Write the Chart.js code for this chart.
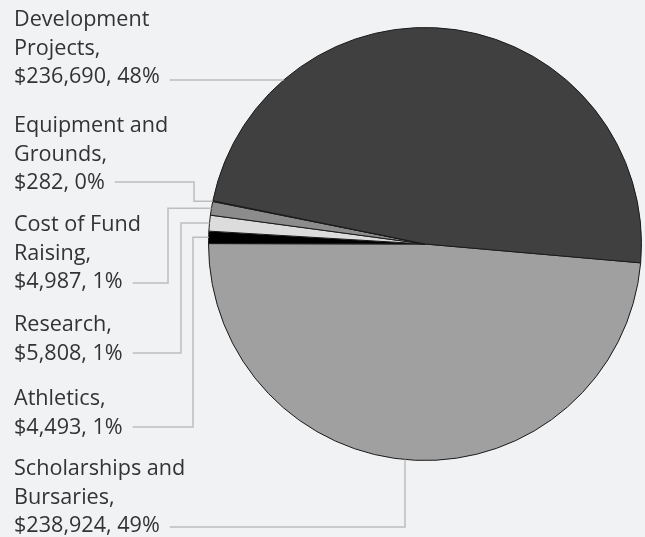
<!DOCTYPE html>
<html>
<head>
<meta charset="utf-8">
<script src="https://cdn.jsdelivr.net/npm/chart.js@4"></script>
<style>
  html, body { margin: 0; padding: 0; background: #f1f2f4; }
  #chart { display: block; }
</style>
</head>
<body>
<canvas id="chart" width="645" height="537"></canvas>
<script>
// slices in clockwise order, starting just below 3 o'clock
const categories = ["Scholarships and\nBursaries", "Athletics", "Research", "Cost of Fund\nRaising", "Equipment and\nGrounds", "Development\nProjects"];
const amounts = [238924, 4493, 5808, 4987, 282, 236690];
const sliceColors = ["#a0a0a0", "#000000", "#dcdcdc", "#8c8c8c", "#7a7a7a", "#404040"];

// label placement (first text line centre, leader line y, elbow x, leader kind)
const labelTop = [469, 399, 325, 225, 126, 20];
const leaderY = [527, 427, 353, 283, 182, 80];
const elbowX = [405, 193, 181, 168, 194, null];
const leaderKind = ["v", "elbow", "elbow", "elbow", "elbow", "h"];

const TEXT_X = 14, LINE_H = 28.6, FONT = '21.6px "Open Sans", sans-serif';

const total = amounts.reduce(function (a, b) { return a + b; }, 0);
function money(v) { return "$" + v.toLocaleString("en-US"); }

const callouts = {
  id: "callouts",
  afterDatasetsDraw(chart) {
    const ctx = chart.ctx;
    const arcs = chart.getDatasetMeta(0).data;
    ctx.save();
    ctx.font = FONT;
    ctx.textBaseline = "middle";
    ctx.fillStyle = "#333333";
    arcs.forEach(function (arc, i) {
      const cx = arc.x, cy = arc.y, r = arc.outerRadius;
      const pct = Math.round(amounts[i] / total * 100);
      const lines = (categories[i] + ",").split("\n");
      lines.push(money(amounts[i]) + ", " + pct + "%");
      lines.forEach(function (t, k) { ctx.fillText(t, TEXT_X, labelTop[i] + k * LINE_H); });
      const endX = TEXT_X + ctx.measureText(lines[lines.length - 1]).width;

      ctx.strokeStyle = "#bdbdbd";
      ctx.lineWidth = 1.5;
      ctx.beginPath();
      const y0 = leaderY[i];
      ctx.moveTo(endX + 10, y0);
      if (leaderKind[i] === "h") {
        ctx.lineTo(cx - Math.sqrt(r * r - (y0 - cy) * (y0 - cy)), y0);
      } else if (leaderKind[i] === "v") {
        const ex = elbowX[i];
        ctx.lineTo(ex, y0);
        ctx.lineTo(ex, cy + Math.sqrt(r * r - (ex - cx) * (ex - cx)));
      } else {
        const mid = (arc.startAngle + arc.endAngle) / 2;
        const ty = cy + r * Math.sin(mid);
        const tx = cx + r * Math.cos(mid);
        ctx.lineTo(elbowX[i], y0);
        ctx.lineTo(elbowX[i], ty);
        ctx.lineTo(tx, ty);
      }
      ctx.stroke();
    });
    ctx.restore();
  }
};

new Chart(document.getElementById("chart"), {
  type: "pie",
  data: {
    labels: categories,
    datasets: [{
      data: amounts,
      backgroundColor: sliceColors,
      borderColor: "#1a1a1a",
      borderWidth: 1
    }]
  },
  options: {
    responsive: false,
    animation: false,
    rotation: 95,
    layout: { padding: { left: 208, right: 3, top: 27, bottom: 76 } },
    plugins: { legend: { display: false }, tooltip: { enabled: false } }
  },
  plugins: [callouts]
});
</script>
</body>
</html>
